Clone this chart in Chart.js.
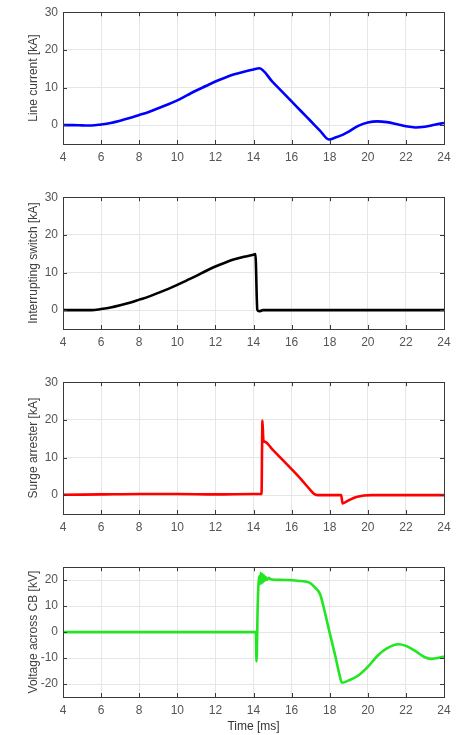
<!DOCTYPE html>
<html>
<head>
<meta charset="utf-8">
<script src="https://cdn.jsdelivr.net/npm/chart.js@4/dist/chart.umd.min.js"></script>
<style>
  html, body { margin: 0; padding: 0; background: #fff; }
  body { position: relative; width: 460px; height: 735px; overflow: hidden; }
  canvas { position: absolute; left: 0; }
</style>
</head>
<body>
<canvas id="c1" width="460" height="170" style="top:0px"></canvas>
<canvas id="c2" width="460" height="170" style="top:185px"></canvas>
<canvas id="c3" width="460" height="170" style="top:370px"></canvas>
<canvas id="c4" width="460" height="180" style="top:555px"></canvas>
<script>
// tick values
const xTicks = [4, 6, 8, 10, 12, 14, 16, 18, 20, 22, 24];
const currentTicks = [0, 10, 20, 30];
const voltageTicks = [-20, -10, 0, 10, 20];

// line current [kA]
const timeLine = [4, 4.5, 5, 5.5, 6, 6.5, 7, 7.5, 8, 8.5, 9, 9.5, 10, 10.5, 11, 11.5, 12, 12.5, 13, 13.5,
  14, 14.3, 15, 15.5, 16, 16.5, 17, 17.5, 17.95, 18.3, 18.7, 19, 19.5, 20, 20.5, 21, 21.5, 22, 22.5, 23,
  23.5, 24];
const lineCurrent = [0, 0, -0.05, -0.1, 0.2, 0.6, 1.2, 1.9, 2.7, 3.5, 4.5, 5.5, 6.6, 7.9, 9.2, 10.4, 11.6, 12.6, 13.5, 14.2,
  14.8, 15.1, 11.5, 8.9, 6.3, 3.7, 1.1, -1.5, -3.8, -3.3, -2.5, -1.7, -0.2, 0.7, 1.0, 0.8, 0.3, -0.3, -0.6, -0.4,
  0.1, 0.6];

// interrupting switch [kA]
const timeSwitch = [4, 5, 5.5, 6, 6.5, 7, 7.5, 8, 8.5, 9, 9.5, 10, 10.5, 11, 11.5, 12, 12.5, 13, 13.5, 14,
  14.1, 14.2, 14.3, 14.5, 24];
const switchCurrent = [0, 0, 0, 0.3, 0.7, 1.3, 2.0, 2.8, 3.6, 4.6, 5.6, 6.7, 7.9, 9.1, 10.4, 11.6, 12.6, 13.5, 14.2, 14.7,
  14.9, 0.1, -0.3, 0, 0];

// surge arrester [kA]
const timeArrester = [4, 6, 8, 10, 12, 14, 14.42, 14.47, 14.52, 14.6, 15, 15.5, 16, 16.5, 17, 17.2, 17.4, 18.6, 18.68, 18.85,
  19.1, 19.4, 19.8, 20.2, 24];
const arresterCurrent = [0.1, 0.2, 0.3, 0.3, 0.2, 0.3, 0.3, 19.8, 14.6, 14.2, 12.1, 9.5, 6.9, 4.2, 1.3, 0.3, 0, 0, -2.2, -1.8,
  -1.1, -0.5, -0.1, 0, 0];

// voltage across CB [kV]
const timeVoltage = [4, 8, 12, 14.12, 14.16, 14.22, 14.3, 14.34, 14.38, 14.42, 14.46, 14.5, 14.54, 14.58, 14.63, 14.7, 14.8, 14.9, 15.4, 16.3,
  17, 17.25, 17.5, 17.75, 18, 18.3, 18.5, 18.64, 19, 19.5, 20, 20.5, 21, 21.6, 22, 22.5, 23, 23.3, 23.7, 24];
const cbVoltage = [0, 0, 0, 0, -11.3, 10, 21.5, 18.5, 22.8, 18.8, 22.4, 19.2, 21.9, 19.7, 21.3, 20.1, 20.9, 20.4, 20.1, 19.8,
  18.8, 17.0, 14.5, 7.5, -0.3, -9.4, -16, -19.5, -18.6, -16.7, -13.4, -9.2, -6.3, -4.7, -5.3, -7.3, -9.7, -10.3, -10.0, -9.4];

const fontFamily = "'Liberation Sans', Arial, sans-serif";

// matlab style box with inward ticks
const boxPlugin = {
  id: 'box',
  afterDraw(chart) {
    const { ctx, chartArea: a, scales } = chart;
    ctx.save();
    ctx.strokeStyle = '#3a3a3a';
    ctx.lineWidth = 1;
    ctx.beginPath();
    scales.x.ticks.forEach(t => {
      const px = Math.round(scales.x.getPixelForValue(t.value)) + 0.5;
      ctx.moveTo(px, a.bottom); ctx.lineTo(px, a.bottom - 4);
      ctx.moveTo(px, a.top); ctx.lineTo(px, a.top + 4);
    });
    scales.y.ticks.forEach(t => {
      const py = Math.round(scales.y.getPixelForValue(t.value)) + 0.5;
      ctx.moveTo(a.left, py); ctx.lineTo(a.left + 4, py);
      ctx.moveTo(a.right, py); ctx.lineTo(a.right - 4, py);
    });
    ctx.stroke();
    ctx.strokeRect(Math.round(a.left) + 0.5, Math.round(a.top) + 0.5,
      Math.round(a.right - a.left), Math.round(a.bottom - a.top));
    ctx.restore();
  }
};

function makeChart(id, times, values, color, yMin, yMax, yTicks, yTitle, xTitle) {
  const points = times.map((t, i) => ({ x: t, y: values[i] }));
  return new Chart(document.getElementById(id), {
    type: 'line',
    data: {
      datasets: [{
        data: points,
        borderColor: color,
        borderWidth: 2.6,
        pointRadius: 0,
        cubicInterpolationMode: 'monotone',
        fill: false
      }]
    },
    options: {
      responsive: false,
      animation: false,
      plugins: { legend: { display: false }, tooltip: { enabled: false } },
      layout: { padding: { left: 26, right: 16, top: 11, bottom: 0 } },
      scales: {
        x: {
          type: 'linear',
          min: 4,
          max: 24,
          afterBuildTicks: s => { s.ticks = xTicks.map(v => ({ value: v })); },
          afterFit: s => { s.height = xTitle ? 38 : 26; },
          grid: { color: '#e6e6e6', drawTicks: false },
          border: { display: false },
          ticks: { color: '#555', padding: 6, maxRotation: 0, font: { family: fontFamily, size: 12 } },
          title: {
            display: !!xTitle,
            text: xTitle || '',
            color: '#333',
            padding: { top: 0, bottom: 1 },
            font: { family: fontFamily, size: 12 }
          }
        },
        y: {
          min: yMin,
          max: yMax,
          afterBuildTicks: s => { s.ticks = yTicks.map(v => ({ value: v })); },
          afterFit: s => { s.width = 37; },
          grid: { color: '#e6e6e6', drawTicks: false },
          border: { display: false },
          ticks: { color: '#555', padding: 5, font: { family: fontFamily, size: 12 } },
          title: {
            display: true,
            text: yTitle,
            color: '#404040',
            padding: 0,
            font: { family: fontFamily, size: 12 }
          }
        }
      }
    },
    plugins: [boxPlugin]
  });
}

makeChart('c1', timeLine, lineCurrent, '#0000ff', -5, 30, currentTicks, 'Line current [kA]');
makeChart('c2', timeSwitch, switchCurrent, '#000000', -5, 30, currentTicks, 'Interrupting switch [kA]');
makeChart('c3', timeArrester, arresterCurrent, '#ff0000', -5, 30, currentTicks, 'Surge arrester [kA]');
makeChart('c4', timeVoltage, cbVoltage, '#22e622', -25, 25, voltageTicks, 'Voltage across CB [kV]', 'Time [ms]');
</script>
</body>
</html>
